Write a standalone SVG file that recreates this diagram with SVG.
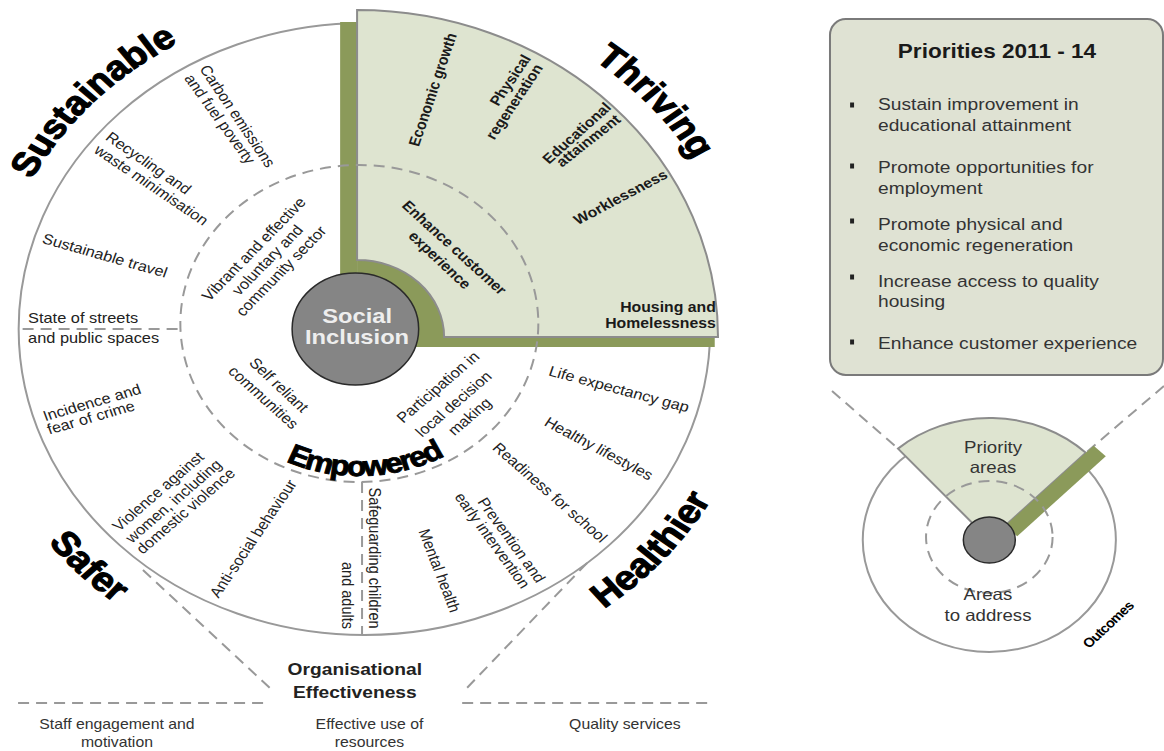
<svg xmlns="http://www.w3.org/2000/svg" width="1164" height="751" viewBox="0 0 1164 751">
<style>
text{font-family:"Liberation Sans",Arial,sans-serif}
.lb{font-size:14.5px;fill:#222;text-anchor:middle}
.lbb{font-size:14px;font-weight:bold;fill:#1a1a1a;text-anchor:middle}
.big{font-size:34px;font-weight:bold;fill:#000;stroke:#000;stroke-width:1.1px}
.dash{stroke:#999;stroke-width:2;stroke-dasharray:11 7;fill:none}
.ring{stroke:#999;stroke-width:2;fill:#fff}
.pale{fill:#dee4d0;stroke:#8c8c8c;stroke-width:2}
.green{fill:#8b9a5a}
.core{fill:#858585;stroke:#2a2a2a;stroke-width:1.5}
.box{font-size:17px;fill:#333}
.bt{font-size:14px;fill:#333;text-anchor:middle}
.st{text-anchor:start}
.en{text-anchor:end}
</style>
<defs>
<path id="pSus" d="M3.8,243.6 A330,330 0 0 1 220.5,15.1"/>
<path id="pThr" d="M437.8,12.3 A337,337 0 0 1 650.9,253.2"/>
<path id="pEmp" d="M186.4,400 A152,152 0 0 0 454.6,390.6"/>
<path id="pSaf" d="M-8.3,449.4 A352,352 0 0 0 193.5,656.5"/>
<path id="pHea" d="M465.3,649.6 A351,351 0 0 0 659.9,425.7"/>
</defs>
<rect width="1164" height="751" fill="#fff"/>
<g transform="scale(1.13,1)">
<g id="outer-ring">
<circle class="ring" cx="322.5" cy="329" r="306" vector-effect="non-scaling-stroke"/>
</g>
<g id="thriving-panel">
<rect class="green" x="301" y="22" width="15" height="325"/>
<rect class="green" x="301" y="337" width="331.5" height="10"/>
<path class="green" d="M316,337 L316,252 A85,85 0 0 1 401,337 Z"/>
<path class="pale" vector-effect="non-scaling-stroke" d="M316,10 A319.4,327 0 0 1 635.4,337 L393,337 A77,77 0 0 0 316,260 Z"/>
</g>
<g id="connectors">
<ellipse class="dash" cx="318" cy="323.5" rx="158.4" ry="158.5" vector-effect="non-scaling-stroke"/>
<line class="dash" x1="20" y1="329" x2="159" y2="329" vector-effect="non-scaling-stroke"/>
<line class="dash" x1="320.4" y1="482" x2="320.4" y2="635" vector-effect="non-scaling-stroke"/>
<line class="dash" x1="126.5" y1="570" x2="240.7" y2="690" vector-effect="non-scaling-stroke"/>
<line class="dash" x1="519.5" y1="563" x2="411.5" y2="690" vector-effect="non-scaling-stroke"/>
<line class="dash" x1="16" y1="703" x2="233" y2="703" vector-effect="non-scaling-stroke"/>
<line class="dash" x1="409" y1="703" x2="630" y2="703" vector-effect="non-scaling-stroke"/>
<line class="dash" x1="736.3" y1="391" x2="794.7" y2="448.6" vector-effect="non-scaling-stroke"/>
<line class="dash" x1="1030" y1="386" x2="960.9" y2="452.8" vector-effect="non-scaling-stroke"/>
</g>
<g id="social-inclusion">
<circle class="core" cx="314.5" cy="329" r="56" vector-effect="non-scaling-stroke"/>
<text x="316" y="322.7" font-size="21" font-weight="bold" fill="#eee" text-anchor="middle">Social</text>
<text x="316" y="344" font-size="21" font-weight="bold" fill="#eee" text-anchor="middle">Inclusion</text>
</g>
<g id="theme-titles">
<text class="big"><textPath href="#pSus" startOffset="50%" text-anchor="middle">Sustainable</textPath></text>
<text class="big"><textPath href="#pThr" startOffset="50%" text-anchor="middle">Thriving</textPath></text>
<text class="big" style="font-size:28px;stroke-width:0.9px;letter-spacing:-1.5px"><textPath href="#pEmp" startOffset="50%" text-anchor="middle">Empowered</textPath></text>
<text class="big"><textPath href="#pSaf" startOffset="50%" text-anchor="middle">Safer</textPath></text>
<text class="big"><textPath href="#pHea" startOffset="50%" text-anchor="middle">Healthier</textPath></text>
</g>
<g id="sustainable-labels">
<text class="lb" transform="translate(210.2 116) rotate(59.1)" y="5">Carbon emissions</text>
<text class="lb" transform="translate(194.7 119) rotate(57.3)" y="5">and fuel poverty</text>
<text class="lb" transform="translate(131.4 163) rotate(37.9)" y="5">Recycling and</text>
<text class="lb" transform="translate(134 185) rotate(37.2)" y="5">waste minimisation</text>
<text class="lb" transform="translate(92.9 255.5) rotate(17.7)" y="5">Sustainable travel</text>
<text class="lb" transform="translate(224.5 249) rotate(-49)" y="5">Vibrant and effective</text>
<text class="lb" transform="translate(236.6 260) rotate(-49)" y="5">voluntary and</text>
<text class="lb" transform="translate(248.7 271) rotate(-49)" y="5">community sector</text>
</g>
<g id="thriving-labels">
<text class="lbb" transform="translate(382.7 89.5) rotate(-73.3)" y="5">Economic growth</text>
<text class="lbb" transform="translate(451.3 80) rotate(-58.7)" y="5">Physical</text>
<text class="lbb" transform="translate(454.9 101.5) rotate(-59)" y="5">regeneration</text>
<text class="lbb" transform="translate(510.2 133) rotate(-45.3)" y="5">Educational</text>
<text class="lbb" transform="translate(520.4 140.5) rotate(-41.5)" y="5">attainment</text>
<text class="lbb" transform="translate(549.1 197) rotate(-30.8)" y="5">Worklessness</text>
<text class="lbb" transform="translate(402.2 247.5) rotate(45.6)" y="5">Enhance customer</text>
<text class="lbb" transform="translate(389.4 260) rotate(46.7)" y="5">experience</text>
<text class="lbb en" x="633.5" y="312">Housing and</text>
<text class="lbb en" x="633.5" y="328">Homelessness</text>
</g>
<g id="safer-labels">
<text class="lb st" x="24.8" y="323">State of streets</text>
<text class="lb st" x="24.8" y="343.5">and public spaces</text>
<text class="lb" transform="translate(81.4 402.5) rotate(-18.2)" y="5">Incidence and</text>
<text class="lb" transform="translate(80.5 417.5) rotate(-17.8)" y="5">fear of crime</text>
<text class="lb" transform="translate(139.8 491.5) rotate(-44.2)" y="5">Violence against</text>
<text class="lb" transform="translate(153.5 501) rotate(-44.2)" y="5">women, including</text>
<text class="lb" transform="translate(164.2 511) rotate(-44.2)" y="5">domestic violence</text>
<text class="lb" transform="translate(223.9 538.5) rotate(-58.8)" y="5">Anti-social behaviour</text>
</g>
<g id="empowered-labels">
<text class="lb" transform="translate(246.9 385) rotate(46.5)" y="5">Self reliant</text>
<text class="lb" transform="translate(233.2 397.5) rotate(45.3)" y="5">communities</text>
<text class="lb" transform="translate(387.5 387) rotate(-44)" y="5">Participation in</text>
<text class="lb" transform="translate(401.3 404) rotate(-44)" y="5">local decision</text>
<text class="lb" transform="translate(415.5 416.5) rotate(-44)" y="5">making</text>
</g>
<g id="healthier-labels">
<text class="lb" transform="translate(331.5 558) rotate(90)" y="5">Safeguarding children</text>
<text class="lb" transform="translate(308 595.5) rotate(90)" y="5">and adults</text>
<text class="lb" transform="translate(547.8 389) rotate(16.8)" y="5">Life expectancy gap</text>
<text class="lb" transform="translate(530 448.5) rotate(30.8)" y="5">Healthy lifestyles</text>
<text class="lb" transform="translate(486.7 492.5) rotate(44.5)" y="5">Readiness for school</text>
<text class="lb" transform="translate(452.7 540) rotate(57.2)" y="5">Prevention and</text>
<text class="lb" transform="translate(435.8 540.5) rotate(57.2)" y="5">early intervention</text>
<text class="lb" transform="translate(389 570.5) rotate(71)" y="5">Mental health</text>
</g>
<g id="org-effectiveness">
<text x="314" y="675" font-size="17" font-weight="bold" fill="#222" text-anchor="middle">Organisational</text>
<text x="314" y="698" font-size="17" font-weight="bold" fill="#222" text-anchor="middle">Effectiveness</text>
<text class="bt" x="103.5" y="729">Staff engagement and</text>
<text class="bt" x="103.5" y="747">motivation</text>
<text class="bt" x="327" y="729">Effective use of</text>
<text class="bt" x="327" y="747">resources</text>
<text class="bt" x="553" y="729">Quality services</text>
</g>
<g id="priorities-box">
<rect x="734.5" y="19" width="294.7" height="356" rx="14" ry="16" fill="#dfe2d3" stroke="#7a7a7a" stroke-width="2" vector-effect="non-scaling-stroke"/>
<text x="882.3" y="58" font-size="20" font-weight="bold" fill="#1a1a1a" text-anchor="middle">Priorities 2011 - 14</text>
<g fill="#222">
<rect x="752.3" y="102.5" width="3.5" height="5"/>
<rect x="752.3" y="163.5" width="3.5" height="5"/>
<rect x="752.3" y="218.5" width="3.5" height="5"/>
<rect x="752.3" y="274.5" width="3.5" height="5"/>
<rect x="752.3" y="339.5" width="3.5" height="5"/>
</g>
<text class="box" x="777" y="110">Sustain improvement in</text>
<text class="box" x="777" y="131">educational attainment</text>
<text class="box" x="777" y="173">Promote opportunities for</text>
<text class="box" x="777" y="194">employment</text>
<text class="box" x="777" y="230">Promote physical and</text>
<text class="box" x="777" y="251">economic regeneration</text>
<text class="box" x="777" y="287">Increase access to quality</text>
<text class="box" x="777" y="307">housing</text>
<text class="box" x="777" y="349">Enhance customer experience</text>
</g>
<g id="mini-diagram">
<circle class="ring" cx="875.5" cy="540" r="112" vector-effect="non-scaling-stroke"/>
<path class="pale" stroke="#999" vector-effect="non-scaling-stroke" d="M875.5,540 L794.7,448.6 A122,122 0 0 1 960.9,452.8 Z"/>
<rect class="green" x="20" y="0" width="112" height="15" transform="translate(875.5 540) rotate(-45.6)"/>
<circle class="dash" cx="875.5" cy="537" r="56" vector-effect="non-scaling-stroke"/>
<circle class="core" cx="875.5" cy="540" r="23" vector-effect="non-scaling-stroke"/>
<text x="878.8" y="453" font-size="16.5" fill="#333" text-anchor="middle">Priority</text>
<text x="878.8" y="473" font-size="16.5" fill="#333" text-anchor="middle">areas</text>
<text x="874.3" y="600" font-size="16.5" fill="#333" text-anchor="middle">Areas</text>
<text x="874.3" y="621" font-size="16.5" fill="#333" text-anchor="middle">to address</text>
<text transform="translate(981 625) rotate(-46.7)" y="4" font-size="13" font-weight="bold" letter-spacing="-0.6" fill="#000" text-anchor="middle">Outcomes</text>
</g>
</g>
</svg>
